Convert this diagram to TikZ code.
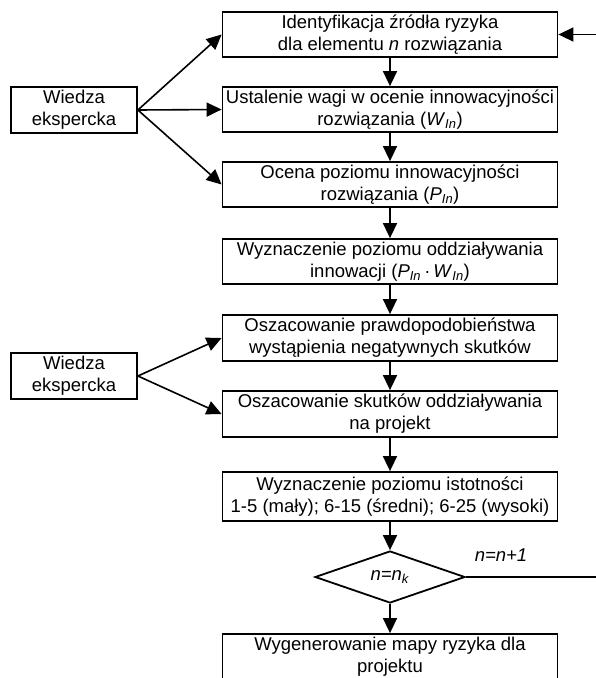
\documentclass[tikz,border=0pt]{standalone}
\usepackage{fontspec}
\setmainfont{Liberation Sans}
\usetikzlibrary{arrows.meta,shapes.geometric}
\begin{document}
\begin{tikzpicture}[x=1pt,y=-1pt,
  every node/.style={font=\fontsize{18.5}{21.8}\selectfont},
  box/.style={draw,line width=1.8pt,minimum width=335pt,minimum height=45pt,inner sep=0pt,align=center},
  lbox/.style={draw,line width=1.8pt,minimum width=126pt,minimum height=46pt,inner sep=0pt,align=center},
  dec/.style={draw,line width=1.8pt,diamond,aspect=2.9,minimum width=150pt,minimum height=52pt,inner sep=0pt},
  arr/.style={line width=1.6pt,-{Triangle[length=15pt,width=14pt]}},
  ln/.style={line width=1.6pt}]
\useasboundingbox (0,0) rectangle (596,678);
\node[box] (b1) at (390,34.5) {Identyfikacja źródła ryzyka\\dla elementu \textit{n} rozwiązania};
\node[box] (b2) at (390,109.5) {Ustalenie wagi w ocenie innowacyjności\\rozwiązania (\textit{W}\textsubscript{\textit{In}})};
\node[box] (b3) at (390,184.5) {Ocena poziomu innowacyjności\\rozwiązania (\textit{P}\textsubscript{\textit{In}})};
\node[box] (b4) at (390,261.5) {Wyznaczenie poziomu oddziaływania\\innowacji (\textit{P}\textsubscript{\textit{In}}\,·\,\textit{W}\textsubscript{\textit{In}})};
\node[box,minimum height=46pt] (b5) at (390,338) {Oszacowanie prawdopodobieństwa\\wystąpienia negatywnych skutków};
\node[box,minimum height=46pt] (b6) at (390,414) {Oszacowanie skutków oddziaływania\\na projekt};
\node[box,minimum height=49pt] (b7) at (390,496.5) {Wyznaczenie poziomu istotności\\1-5 (mały); 6-15 (średni); 6-25 (wysoki)};
\node[dec] (d) at (390,577) {\textit{n=n}\textsubscript{\textit{k}}};
\node[box,minimum height=46pt] (b8) at (390,657) {Wygenerowanie mapy ryzyka dla\\projektu};
\node[lbox] (w1) at (74,110) {Wiedza\\ekspercka};
\node[lbox] (w2) at (74,376) {Wiedza\\ekspercka};
\node (lab) at (501,555) {\textit{n=n+1}};
\coordinate (r1) at (601,577);
\coordinate (r2) at (601,34.5);
\draw[arr] (b1) -- (b2);
\draw[arr] (b2) -- (b3);
\draw[arr] (b3) -- (b4);
\draw[arr] (b4) -- (b5);
\draw[arr] (b5) -- (b6);
\draw[arr] (b6) -- (b7);
\draw[arr] (b7) -- (d);
\draw[arr] (d) -- (b8);
\draw[arr] (w1.east) -- (b1.west);
\draw[arr] (w1.east) -- (b2.west);
\draw[arr] (w1.east) -- (b3.west);
\draw[arr] (w2.east) -- (b5.west);
\draw[arr] (w2.east) -- (b6.west);
\draw[ln] (d.east) -- (r1) -- (r2);
\draw[arr] (r2) -- (b1.east);
\end{tikzpicture}
\end{document}
